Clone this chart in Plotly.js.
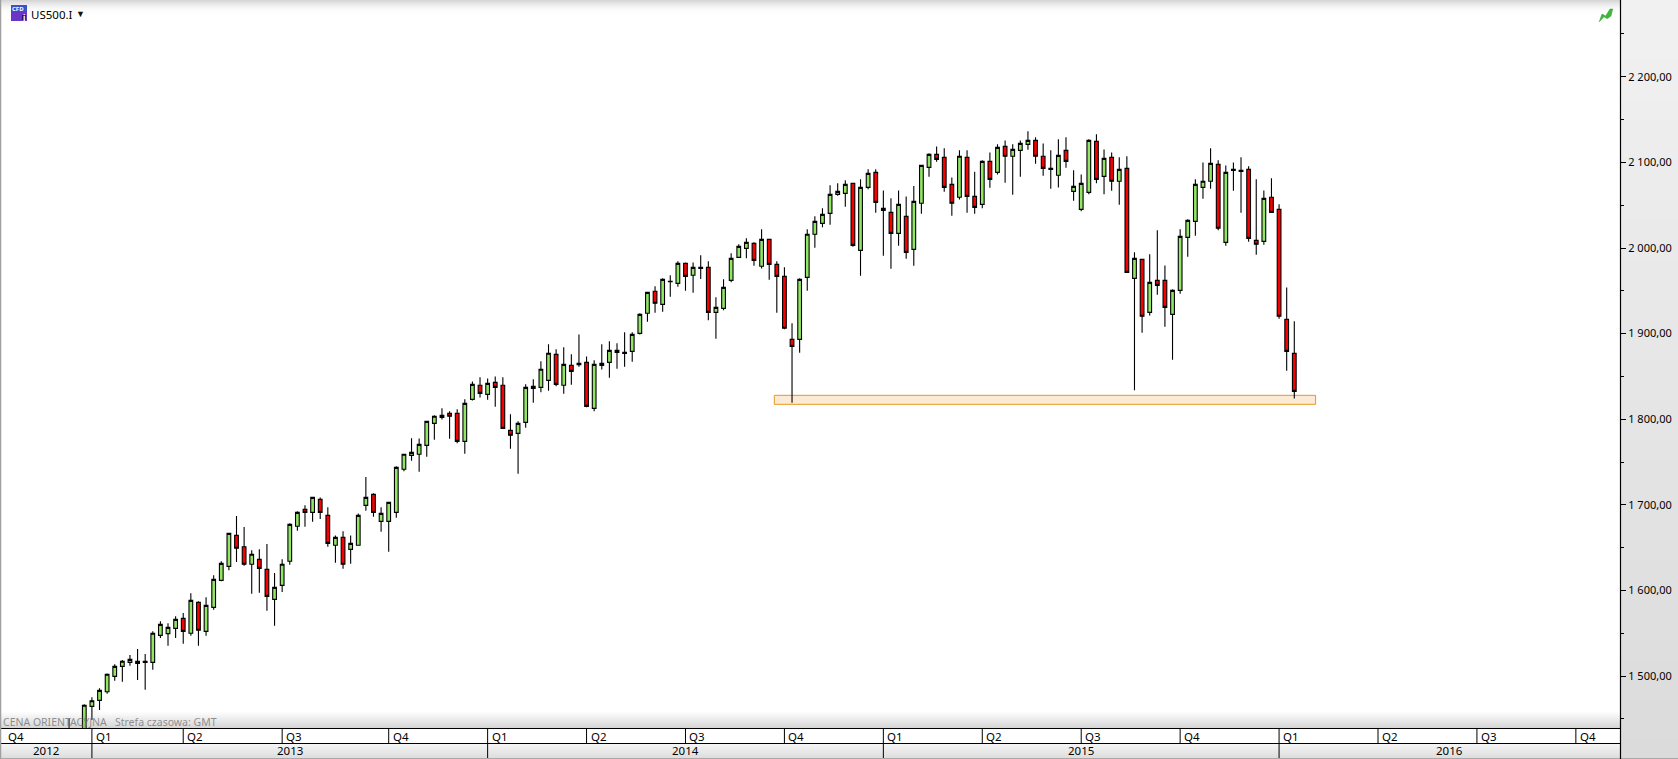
<!DOCTYPE html>
<html><head><meta charset="utf-8">
<script src="https://cdn.plot.ly/plotly-3.0.1.min.js"></script>
<style>html,body{margin:0;padding:0;background:#f0f0f0;overflow:hidden}#c{width:1678px;height:759px}</style>
</head><body><div id="c"></div>
<script>
// Weekly candles: index -2 is the first bar; the first two sit mostly under the time strip
const openP = [1425,1415,1432,1464.6,1471.6,1481.7,1499.6,1511.3,1516,1517.2,1517.2,1516,1547.5,1549.5,1555.7,1567.4,1549.9,1586.1,1552.2,1580.2,1611.8,1628.1,1664.3,1651.1,1630.5,1636.3,1624.6,1589.6,1605.9,1634,1674.9,1694.7,1691.2,1706.4,1687.7,1652.7,1662,1648,1652.7,1699.4,1712.2,1680.7,1680.7,1691.2,1741.5,1757.8,1759,
1769.5,1795.2,1802.2,1806.8,1806.8,1774.1,1823.2,1839.6,1829,1843,1839.6,1787,1783.5,1796.3,1838.4,1837.2,1845.4,1875.8,1839.6,1862.9,1865.3,1866.4,1812.7,1865.3,1866.4,1880.4,1878.1,1879.3,1900.3,1923.7,1949.4,1934.2,1961,1958.7,1982.1,1968.1,1977.4,1977.4,1924.8,1929.5,1962.2,1989.1,1999.6,2005.4,1978.6,2010.1,1980.9,1966.9,1893.3,1893.3,1965.7,
2016,2028.8,2040.5,2062.7,2063.8,2075.5,1997.2,2070.8,2088.4,2046.3,2041.6,2017.1,2037,1998.4,2052.2,2094.2,2109.4,2105.9,2074.3,2059.2,2105.9,2060.3,2051,2101.2,2088.4,2118.7,2107.1,2114.1,2121.1,2125.7,2107.1,2093,2084.9,2114.1,2066.2,2045.1,2065,2124.6,
2083.7,2105.9,2077.9,2093,1964.5,1986.7,1924.8,1962.2,1962.2,1922.5,1950.5,2012.4,2031.1,2070.8,2077.9,2097.7,2006.6,2090.7,2089.5,2091.9,2008.9,2007.8,2059.2,2045.1,1916.6,1876.9];
const highP = [1450,1436,1466.9,1475.1,1485.6,1503.1,1513.7,1518.7,1524.6,1531.6,1525.7,1552.2,1563.9,1561.6,1569.7,1573.6,1596.6,1587.3,1591.9,1617.6,1634,1666.7,1686.9,1674.1,1646.8,1648,1654.2,1620.3,1636.3,1678.4,1692.4,1699.4,1708.7,1708.7,1697.1,1664.3,1669,1664.3,1690,1732.5,1713.4,1697.1,1702.9,1745,1759,1777.7,1777.6,
1797.5,1804.5,1812.7,1809.2,1811.5,1823.2,1844.2,1848.9,1847.7,1850,1848.9,1805.7,1797.5,1840.7,1846.6,1867.6,1887.5,1881.6,1884,1875.8,1899.1,1873.4,1868.8,1887.5,1891,1888.6,1901.5,1901.5,1923.7,1948.2,1955.2,1964.6,1968.1,1984.4,1983.2,1983.2,1991.4,1984.4,1942.4,1963.4,1993.8,2004.3,2011.3,2006.6,2021.8,2010.1,1984.4,1977.4,1912,1964.6,2021.8,
2037,2046.3,2073.2,2075.5,2079,2075.5,2080.2,2091.9,2091.9,2067.3,2058,2067.3,2060.3,2072.4,2096.5,2110.6,2118.7,2116.4,2082.5,2114.1,2114.1,2089.1,2102.4,2111.7,2121.1,2125.7,2121.1,2125.7,2136.3,2129.3,2122.2,2114.1,2126.9,2129.3,2090.7,2086,2126.9,2132.8,
2115.2,2111.7,2105.9,2107.1,1994.9,1986.7,1992.6,2020.6,1979.7,1951.7,2021.8,2033.5,2080.2,2100,2116.4,2102.4,2096.5,2100,2105.9,2095.4,2080.2,2067.3,2081.4,2051,1954,1914.3];
const lowP = [1415,1410,1428,1448.6,1460.3,1479.4,1494.6,1493.4,1512.1,1495.4,1484.1,1507.4,1544.4,1535.5,1544.4,1537.8,1547.1,1535.5,1547.1,1577.5,1610.6,1623.5,1633.2,1628.9,1596.2,1597.4,1576.3,1558.8,1598.2,1630.1,1669.8,1674.5,1680.3,1683.4,1651.1,1632.4,1625.4,1631.3,1652.7,1693.2,1686.2,1668.6,1645.3,1685,1739.1,1751.6,1738.7,
1756.2,1776.1,1799.8,1777.2,1771.8,1759.7,1822,1825.5,1822.8,1814.6,1789.3,1765.6,1736.4,1790.1,1819.3,1831.4,1833.3,1838.4,1829.8,1840.3,1861.4,1813.9,1809.2,1858.2,1848.5,1859,1861.4,1867.2,1899.1,1913.9,1924.4,1925.6,1943.1,1954.8,1950.1,1947.8,1963.8,1915.5,1894.1,1927.2,1959.9,1989.1,1987.9,1979.4,1976.2,1963,1924.4,1905,1819.3,1877.7,1950.1,
2000.4,2024.1,2027.2,2061.1,2048.3,2001.5,1967.7,2068.5,2041.2,1991,1975.8,2002.7,1987.5,1979.3,2040.1,2083.3,2100.8,2065.8,2037.7,2056.8,2041.2,2040.1,2046.3,2070.4,2086,2076.3,2062.3,2083.3,2114.8,2098.5,2084.5,2069.3,2070.8,2093.8,2055.3,2042.8,2062.7,2075.5,
2062.7,2067,2050.6,1971.5,1833.7,1901.1,1921.3,1945.5,1908.1,1869.5,1946.6,1989.8,2014.4,2057.6,2069.3,2020.6,2002.7,2067,2041.2,2007.4,1992.2,2003.9,2041.6,1917.4,1856.7,1824.3];
const closeP = [1430,1430,1465.8,1471.2,1483.3,1502,1511.3,1517.2,1519.5,1514.8,1516,1549.9,1560.4,1556.9,1566.2,1552.2,1588.4,1553.4,1582.6,1612.9,1631.6,1666.7,1649.2,1630.5,1642.2,1625.8,1593.1,1603.6,1630.5,1677.2,1691.2,1691.2,1708.7,1691.2,1655,1662,1630.5,1655,1687.7,1708.7,1691.2,1690,1702.9,1743.8,1759,1761.3,1770.6,
1797.5,1803.4,1804.5,1803.4,1774.1,1818.5,1840.7,1830.2,1841.9,1837.2,1789.3,1781.2,1795.2,1837.2,1836,1858.3,1877,1840.7,1864.1,1855.9,1863.7,1815,1864.1,1862.9,1880.4,1878.1,1876.9,1899.1,1922.5,1948.2,1935.4,1963.4,1960.7,1982.1,1966.9,1977.4,1976.2,1924.8,1930.7,1954,1987.9,2001.9,2006.6,1985.6,2010.1,1980.9,1966.9,1906.2,1885.1,1963.4,2016,
2031.1,2039.3,2062.7,2066.2,2074.3,2003.1,2070.8,2087.2,2053.3,2044,2017.1,2051,1994.9,2054.5,2096.5,2109.4,2103.5,2070.8,2052.2,2107.1,2060.3,2047.5,2101.2,2080.2,2117.6,2107.1,2115.2,2122.2,2125.7,2107.1,2093,2091.9,2108.2,2101.2,2072,2075.5,2125.7,2080.2,
2104.7,2077.9,2091.9,1971.5,1987.9,1920.2,1959.9,1956.4,1930.7,1950.5,2013.6,2032.3,2074.3,2077.9,2098.9,2023,2088.4,2091.9,2090.7,2011.3,2004.3,2058,2041.6,1920.2,1879.3,1832.5];

const quarterLabels = ['Q4','Q1','Q2','Q3','Q4','Q1','Q2','Q3','Q4','Q1','Q2','Q3','Q4','Q1','Q2','Q3','Q4'];
const quarterBars   = [-10.5,1,13,26,40,53,66,79,92,105,118,131,144,157,170,183,196];
const yearLabels = ['2012','2013','2014','2015','2016'];
const yearBars   = [-11,1,53,105,157,201.8];
const supportZone = {lowPrice:1817.4, highPrice:1827.9, fromBar:90.67, toBar:161.8};

const xBars = openP.map((_,i)=>i-2);
const P = {w:1678,h:759,l:1,r:58,t:0,b:31};
const plotW = P.w-P.l-P.r, plotH = P.h-P.t-P.b;
const fx = px => (px-P.l)/plotW;
const fy = py => (P.t+plotH-py)/plotH;

const shapes = [];
function rect(x0,y0,x1,y1,fill,layer,line){
  shapes.push({type:'rect',xref:'paper',yref:'paper',x0:fx(x0),x1:fx(x1),y0:fy(y0),y1:fy(y1),
    fillcolor:fill,line:line||{width:0},layer:layer||'above'});
}
function vline(px,y0,y1,col,w){
  shapes.push({type:'line',xref:'paper',yref:'paper',x0:fx(px),x1:fx(px),y0:fy(y0),y1:fy(y1),line:{color:col||'#000',width:w||1},layer:'above'});
}
function hline(py,x0,x1,col,w){
  shapes.push({type:'line',xref:'paper',yref:'paper',x0:fx(x0),x1:fx(x1),y0:fy(py),y1:fy(py),line:{color:col||'#000',width:w||1},layer:'above'});
}
function grey(a,b,t){const v=Math.round(a+(b-a)*t);return 'rgb('+v+','+v+','+v+')';}

// support zone
shapes.push({type:'rect',xref:'x',yref:'y',x0:supportZone.fromBar,x1:supportZone.toBar,
  y0:supportZone.lowPrice,y1:supportZone.highPrice,fillcolor:'#FBEBD5',line:{color:'#E8971E',width:1},layer:'below'});

// fades at top and bottom of the plot
for(let i=0;i<14;i++){const t=1-i/14;rect(1,i,1620,i+1,'rgba(120,120,120,'+(0.30*t*t).toFixed(3)+')');}
for(let i=0;i<16;i++){const t=(i+1)/16;rect(1,712+i,1620,713+i,'rgba(120,120,120,'+(0.30*t).toFixed(3)+')');}

// right gutter, darkening towards the bottom
for(let i=0;i<38;i++){rect(1620,i*20,1678,(i+1)*20,grey(241,219,i/37),'below');}

// time strip
rect(1,728,1620,743,'#ffffff');
for(let i=0;i<15;i++){rect(1,743+i,1620,744+i,grey(246,222,i/14));}
hline(728.5,1,1620); hline(743.5,1,1620); hline(758.5,0,1678,'#a8a8a8',1);
quarterBars.slice(1).forEach(b=>{
  shapes.push({type:'line',xref:'x',yref:'paper',x0:b,x1:b,y0:fy(728),y1:fy(743),line:{color:'#000',width:1},layer:'above'});
});
yearBars.slice(1,-1).forEach(b=>{
  shapes.push({type:'line',xref:'x',yref:'paper',x0:b,x1:b,y0:fy(743),y1:fy(758),line:{color:'#000',width:1},layer:'above'});
});
vline(1620.5,0,759,'#000',1.2);
vline(0.5,0,759,'#a0a0a0',1.5);

// instrument icon + trend icon
rect(11,5,27,21,'#6A35C8');
rect(11,5,27,11,'#3F50C8');
rect(22,15,26,20,'#1a1a60');
shapes.push({type:'path',xref:'paper',yref:'paper',layer:'above',fillcolor:'#3DB83D',line:{color:'#2C9A2C',width:0.5},
  path:['M',fx(1599.3),fy(21.7),'L',fx(1602),fy(14),'L',fx(1605.7),fy(16),'L',fx(1610),fy(9),'L',fx(1612.7),fy(9),'L',fx(1611),fy(16),'L',fx(1607.3),fy(18.7),'L',fx(1604),fy(16.7),'Z'].join(' ')});

const FONT='"Noto Sans", "Liberation Sans", sans-serif';
const ann=[];
function txt(text,xp,yp,size,color,anchor,extra){
  ann.push(Object.assign({text,xref:'paper',yref:'paper',x:fx(xp),y:fy(yp),xanchor:anchor||'left',yanchor:'middle',
    showarrow:false,font:{family:FONT,size,color:color||'#000'},borderpad:0,borderwidth:0},extra||{}));
}
txt('US500.I',31,14,11.5);
txt('▼',76,13,9,'#111');
txt('CFD',12,9,6,'#fff','left',{font:{family:FONT,size:6,color:'#fff',weight:700}});
txt('i',23,17,8,'#fff','left',{font:{family:FONT,size:8,color:'#fff',weight:700}});
txt('CENA ORIENTACYJNA   Strefa czasowa: GMT',3,722,10.5,'rgba(110,110,110,0.75)');
quarterLabels.forEach((q,i)=>{
  ann.push({text:q,xref:'x',yref:'paper',x:quarterBars[i],y:fy(736),xanchor:'left',yanchor:'middle',xshift:3,showarrow:false,
    font:{family:FONT,size:11.5,color:'#000'},borderpad:0});
});
yearLabels.forEach((y,i)=>{
  ann.push({text:y,xref:'x',yref:'paper',x:(yearBars[i]+yearBars[i+1])/2,y:fy(751),xanchor:'center',yanchor:'middle',showarrow:false,
    font:{family:FONT,size:11.5,color:'#000'},borderpad:0});
});

Plotly.newPlot('c',[{
  type:'candlestick',x:xBars,open:openP,high:highP,low:lowP,close:closeP,
  width:0.56,whiskerwidth:0,hoverinfo:'none',
  increasing:{line:{color:'#000',width:1.1},fillcolor:'#92E666'},
  decreasing:{line:{color:'#000',width:1.1},fillcolor:'#F80000'}
}],{
  width:P.w,height:P.h,margin:{l:P.l,r:P.r,t:P.t,b:P.b,pad:0},
  paper_bgcolor:'#f0f0f0',plot_bgcolor:'#ffffff',showlegend:false,separators:', ',
  xaxis:{type:'linear',range:[-10.946,201.8],showgrid:false,zeroline:false,showticklabels:false,ticks:'',showline:false,
    rangeslider:{visible:false},fixedrange:true},
  yaxis:{side:'right',range:[1439.3,2289.7],showgrid:false,zeroline:false,tick0:0,dtick:100,tickformat:',.2f',
    ticks:'outside',ticklen:5,tickwidth:1,tickcolor:'#000',showline:false,fixedrange:true,
    tickfont:{family:FONT,size:11,color:'#000'},
    minor:{dtick:50,ticks:'outside',ticklen:3,tickcolor:'#000',tickwidth:1,showgrid:false}},
  shapes,annotations:ann
},{displayModeBar:false,staticPlot:true});
</script></body></html>
